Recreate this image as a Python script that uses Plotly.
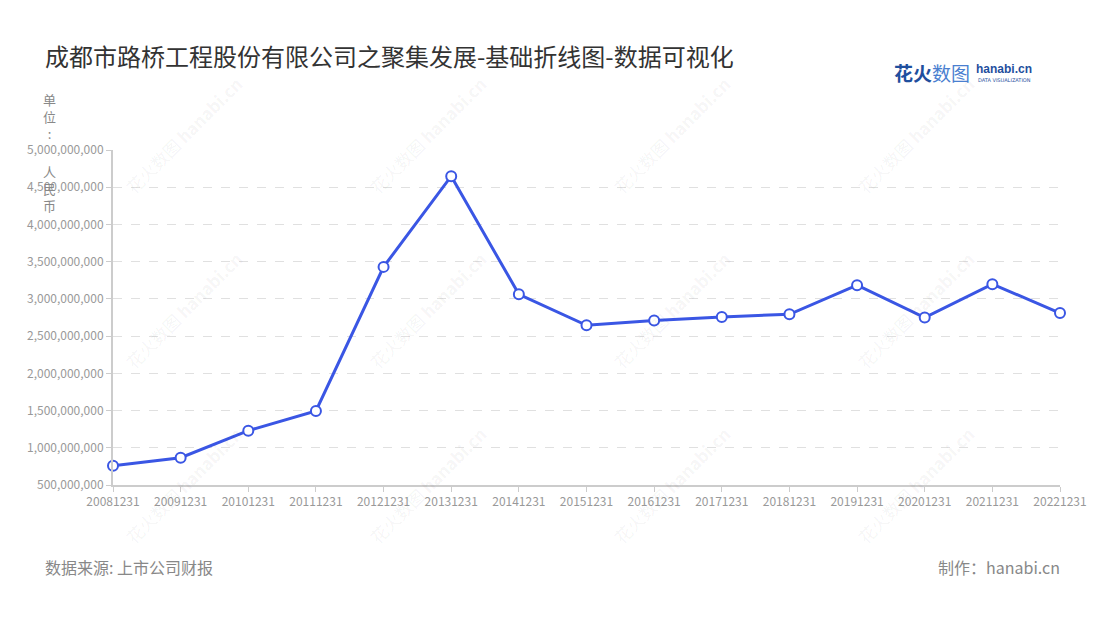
import plotly.graph_objects as go

dates = ["20081231", "20091231", "20101231", "20111231", "20121231", "20131231",
         "20141231", "20151231", "20161231", "20171231", "20181231", "20191231",
         "20201231", "20211231", "20221231"]
values = [0.759e9, 0.867e9, 1.23e9, 1.495e9, 3.43e9, 4.648e9,
          3.062e9, 2.645e9, 2.71e9, 2.758e9, 2.793e9, 3.184e9,
          2.75e9, 3.198e9, 2.81e9]
y_ticks = [500000000, 1000000000, 1500000000, 2000000000, 2500000000,
           3000000000, 3500000000, 4000000000, 4500000000, 5000000000]

title = "成都市路桥工程股份有限公司之聚集发展-基础折线图-数据可视化"
y_name_top = "单位:"
y_name_bottom = "人民币"
source = "数据来源: 上市公司财报"
maker = "制作：hanabi.cn"

FONT = "Noto Sans CJK SC, Noto Sans, sans-serif"
BLUE = "#3A56E4"

L, R, T, B = 113, 1060, 150, 485
W, H = 1100, 620


def px(x):
    return (x - L) / (R - L)


def py(y):
    return (B - y) / (B - T)


fig = go.Figure()
fig.add_trace(go.Scatter(
    x=dates, y=values, mode="lines+markers",
    line=dict(color=BLUE, width=3),
    marker=dict(size=10, color="white", line=dict(color=BLUE, width=2)),
    hoverinfo="x+y", cliponaxis=False,
))

annotations = []
# watermarks
for wx in [183, 427, 671, 915]:
    for wy in [135, 310, 485]:
        annotations.append(dict(
            x=px(wx), y=py(wy), xref="paper", yref="paper",
            text="花火数图 <b>hanabi.cn</b>", showarrow=False, textangle=-45,
            font=dict(family=FONT, size=17, color="rgba(0,0,0,0.05)"),
            xanchor="center", yanchor="middle"))

annotations += [
    dict(x=px(43), y=py(55), xref="paper", yref="paper", text=title,
         showarrow=False, xanchor="left", yanchor="middle",
         font=dict(family=FONT, size=24, color="#333333")),
    dict(x=px(50), y=py(116), xref="paper", yref="paper",
         text="<br>".join(list(y_name_top)), showarrow=False,
         xanchor="center", yanchor="middle", align="center",
         font=dict(family=FONT, size=13, color="#888888")),
    dict(x=px(50), y=py(188), xref="paper", yref="paper",
         text="<br>".join(list(y_name_bottom)), showarrow=False,
         xanchor="center", yanchor="middle", align="center",
         font=dict(family=FONT, size=13, color="#888888")),
    dict(x=px(43), y=py(567), xref="paper", yref="paper", text=source,
         showarrow=False, xanchor="left", yanchor="middle",
         font=dict(family=FONT, size=16, color="#888888")),
    dict(x=px(1062), y=py(567), xref="paper", yref="paper", text=maker,
         showarrow=False, xanchor="right", yanchor="middle",
         font=dict(family=FONT, size=16, color="#888888")),
    # logo
    dict(x=px(892), y=py(72), xref="paper", yref="paper",
         text="<b>花火</b><span style='color:#4a7fd0'>数图</span>", showarrow=False,
         xanchor="left", yanchor="middle",
         font=dict(family=FONT, size=19, color="#1f4f9e")),
    dict(x=px(974), y=py(69), xref="paper", yref="paper",
         text="<b>hanabi.cn</b>", showarrow=False, xanchor="left", yanchor="middle",
         font=dict(family="Liberation Sans, sans-serif", size=12, color="#1f4f9e")),
    dict(x=px(976), y=py(80), xref="paper", yref="paper",
         text="DATA VISUALIZATION", showarrow=False, xanchor="left", yanchor="middle",
         font=dict(family="DejaVu Sans, sans-serif", size=5, color="#1f4f9e")),
]

fig.update_layout(
    width=W, height=H,
    margin=dict(l=L, r=W - R, t=T, b=H - B),
    paper_bgcolor="white", plot_bgcolor="white",
    showlegend=False,
    font=dict(family=FONT, color="#999999"),
    annotations=annotations,
    xaxis=dict(
        type="category", range=[0, len(dates) - 1],
        showgrid=False, showline=True, linecolor="#cccccc", linewidth=2,
        ticks="outside", ticklen=5, tickcolor="#cccccc", tickwidth=1,
        tickfont=dict(family=FONT, size=12, color="#999999"),
        zeroline=False,
    ),
    yaxis=dict(
        range=[5e8, 5e9], tickvals=y_ticks, tickformat=",d",
        showgrid=True, gridcolor="#e0e0e0", griddash="dash", gridwidth=1,
        showline=True, linecolor="#cccccc", linewidth=2,
        ticks="outside", ticklen=5, tickcolor="#cccccc", tickwidth=1,
        tickfont=dict(family=FONT, size=12, color="#999999"),
        zeroline=False,
    ),
)

fig.write_html("out.html", config={"displayModeBar": False},
               post_script="document.body.style.margin='0';")
